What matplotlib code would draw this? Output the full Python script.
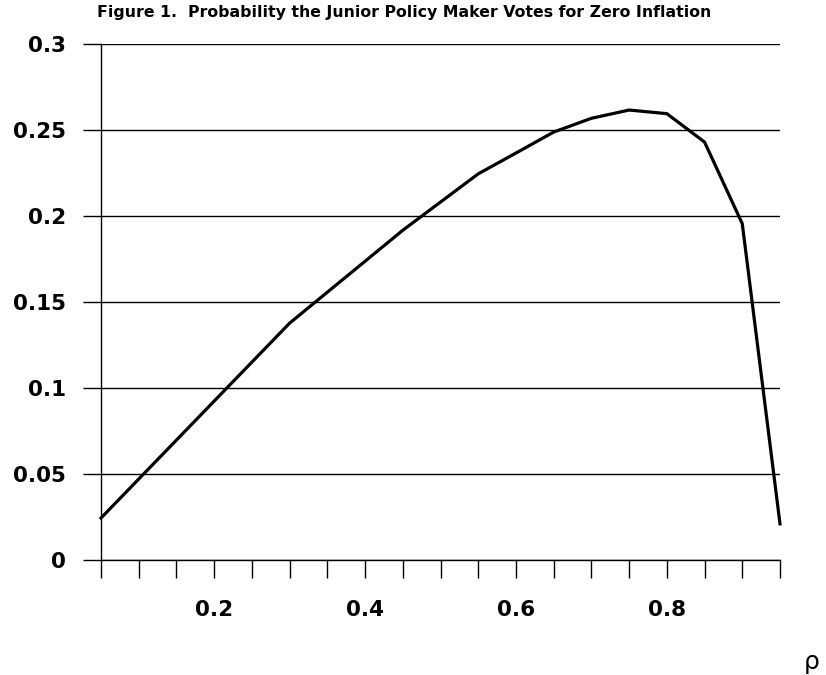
import matplotlib
matplotlib.use('Agg')
import matplotlib.pyplot as plt
import numpy as np

plt.rcParams['font.family'] = ['DejaVu Sans']

# data
rho = [0.05, 0.30, 0.45, 0.55, 0.60, 0.65, 0.70, 0.75, 0.80, 0.85, 0.90, 0.95]
prob = [0.0244, 0.1377, 0.1917, 0.2245, 0.2366, 0.2488, 0.2568, 0.2616, 0.2595, 0.2430, 0.1955, 0.0210]
yticks = [0, 0.05, 0.1, 0.15, 0.2, 0.25, 0.3]
ylabels = ['0', '0.05', '0.1', '0.15', '0.2', '0.25', '0.3']
xticks = [0.2, 0.4, 0.6, 0.8]
xlabels = ['0.2', '0.4', '0.6', '0.8']

fig = plt.figure(figsize=(8.26, 6.75), dpi=100)
ax = fig.add_axes([101/826, 1-560/675, 679/826, 516/675])

ax.plot(rho, prob, color='black', lw=2.3, solid_joinstyle='miter', zorder=3, clip_on=False)

ax.set_xlim(0.05, 0.95)
ax.set_ylim(0, 0.3)
ax.set_yticks(yticks)
ax.set_yticklabels(ylabels, fontsize=15.5, fontweight='bold')
ax.set_xticks(xticks)
ax.set_xticklabels(xlabels, fontsize=15.5, fontweight='bold')
ax.set_xticks(np.arange(0.05, 0.951, 0.05), minor=True)

ax.grid(axis='y', color='black', lw=1.0)
ax.tick_params(axis='y', length=13, width=1.0, pad=12)
ax.tick_params(axis='x', which='both', length=13, width=1.0, pad=16)

for s in ['top', 'right']:
    ax.spines[s].set_visible(False)
for s in ['left', 'bottom']:
    ax.spines[s].set_linewidth(1.0)

fig.text(404/826, 1-13/675, 'Figure 1.  Probability the Junior Policy Maker Votes for Zero Inflation',
         ha='center', va='center', fontsize=11.3, fontweight='bold')
fig.text(812/826, 1-662/675, 'ρ', ha='center', va='center', fontsize=18)

fig.savefig('out.png', dpi=100)
